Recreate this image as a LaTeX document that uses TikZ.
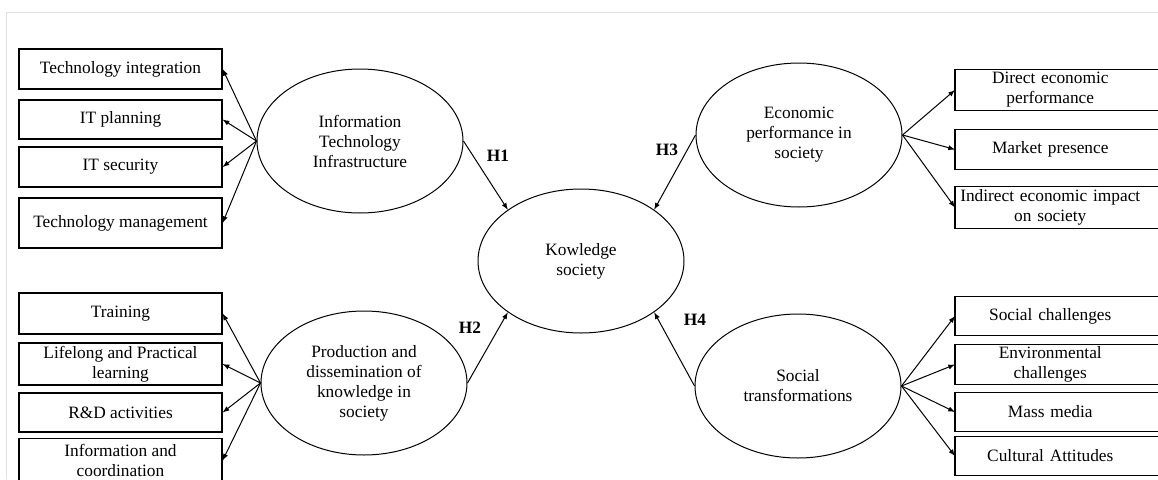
\documentclass[tikz,border=0pt]{standalone}
\usepackage{fontspec}
\setmainfont{Liberation Serif}
\usetikzlibrary{shapes.geometric}

\begin{document}
\begin{tikzpicture}[x=0.75pt,y=-0.75pt,
  every node/.style={font=\fontsize{13}{15}\selectfont},
  lbox/.style={draw, line width=0.9pt, minimum width=152.25pt, minimum height=#1, inner sep=0pt, align=center},
  rbox/.style={minimum height=#1, text width=142.5pt, inner sep=0pt, align=center, anchor=west},
  construct/.style={draw, ellipse, line width=0.75pt, minimum width=154.5pt, minimum height=108pt, inner sep=0pt, align=center},
  hyp/.style={font=\fontsize{13}{15}\selectfont\bfseries},
  link/.style={->, >=latex, line width=0.75pt}]
\useasboundingbox (0,0) rectangle (1158,479);
\draw[gray!25, line width=0.75pt] (6,479) -- (6,12) -- (1158,12);

% latent constructs
\node[construct] (iti) at (360,141) {Information\\Technology\\Infrastructure};
\node[construct] (pd) at (364,383) {Production and\\dissemination of\\knowledge in\\society};
\node[construct] (ks) at (581,261) {Kowledge\\society};
\node[construct] (ep) at (799,135) {Economic\\performance in\\society};
\node[construct] (st) at (798,386) {Social\\transformations};

% indicators, left
\node[lbox=30pt] (ti) at (120.5,69) {Technology integration};
\node[lbox=29.25pt] (itp) at (120.5,119.5) {IT planning};
\node[lbox=30pt] (its) at (120.5,167) {IT security};
\node[lbox=37.5pt] (tm) at (120.5,223) {Technology management};
\node[lbox=30.75pt] (tr) at (120.5,313.5) {Training};
\node[lbox=31.5pt] (ll) at (120.5,364) {Lifelong and Practical\\learning};
\node[lbox=29.25pt] (rd) at (120.5,412.5) {R\&D activities};
\node[lbox=33pt] (ic) at (120.5,460.5) {Information and\\coordination};

% indicators, right (open on the right side)
\node[rbox=30pt] (dep) at (955,90) {Direct economic\\performance};
\node[rbox=29.25pt] (mp) at (955,149.5) {Market presence};
\node[rbox=30.75pt] (iei) at (955,207.5) {Indirect economic impact\\on society};
\node[rbox=28.5pt] (sc) at (955,316) {Social challenges};
\node[rbox=29.25pt] (ec) at (955,364.5) {Environmental\\challenges};
\node[rbox=28.5pt] (mm) at (955,412) {Mass media};
\node[rbox=28.5pt] (ca) at (955,456) {Cultural Attitudes};
\foreach \b in {dep,mp,iei,sc,ec,mm,ca}
  \draw[line width=0.9pt] ([xshift=40pt]\b.north east) -- (\b.north west) -- (\b.south west) -- ([xshift=40pt]\b.south east);

% measurement arrows
\foreach \b in {ti,itp,its,tm} \draw[link] (iti.west) -- (\b.east);
\foreach \b in {tr,ll,rd,ic} \draw[link] (pd.west) -- (\b.east);
\foreach \b in {dep,mp,iei} \draw[link] (ep.east) -- (\b.west);
\foreach \b in {sc,ec,mm,ca} \draw[link] (st.east) -- (\b.west);

% hypotheses
\draw[link] (iti.east) -- (ks.145);
\draw[link] (pd.east) -- (ks.215);
\draw[link] (ep.west) -- (ks.35);
\draw[link] (st.west) -- (ks.325);
\node[hyp] (h1) at (498,156) {H1};
\node[hyp] (h2) at (470,328) {H2};
\node[hyp] (h3) at (667,150) {H3};
\node[hyp] (h4) at (695,320) {H4};
\end{tikzpicture}
\end{document}
